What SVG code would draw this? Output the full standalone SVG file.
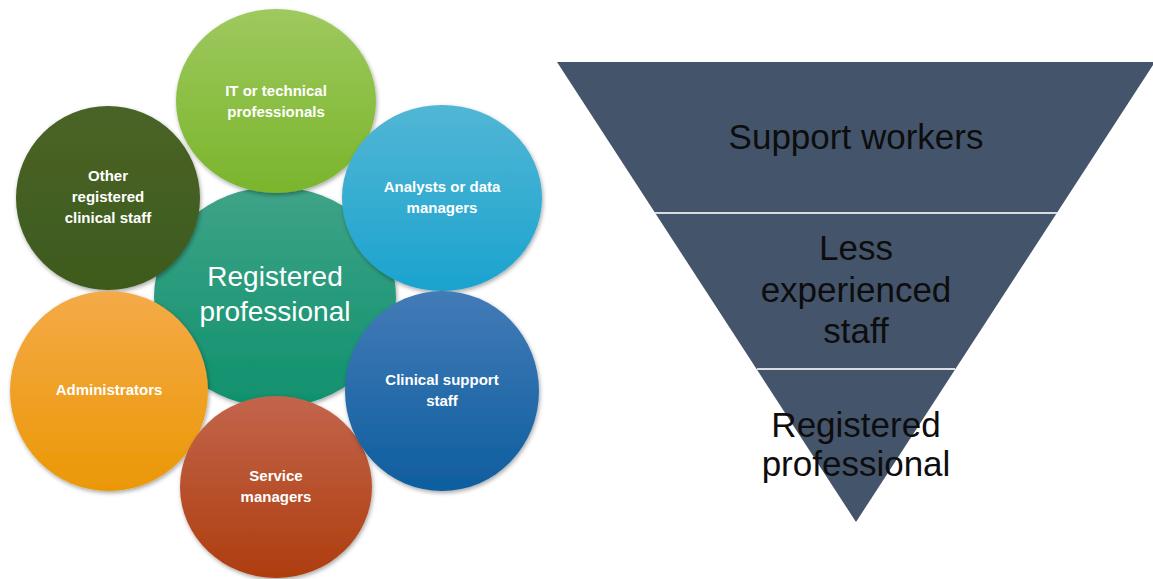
<svg xmlns="http://www.w3.org/2000/svg" width="1153" height="579" viewBox="0 0 1153 579">
  <defs>
    <style>
      .lbl { font-family: "Liberation Sans", Arial, sans-serif; font-weight: bold; font-size: 15px; fill: #ffffff; text-anchor: middle; }
      .core { font-family: "Liberation Sans", Arial, sans-serif; font-size: 28px; fill: #ffffff; text-anchor: middle; }
      .tier { font-family: "Liberation Sans", Arial, sans-serif; font-size: 35px; fill: #0d0d0d; text-anchor: middle; }
      .divider { stroke: #d9dde3; stroke-width: 2; }
    </style>
    <filter id="shadow" x="-10%" y="-10%" width="125%" height="125%">
      <feDropShadow dx="1" dy="2" stdDeviation="2" flood-color="#000" flood-opacity="0.35"/>
    </filter>
    <linearGradient id="gCore" x1="0" y1="0" x2="0" y2="1">
      <stop offset="0" stop-color="#3fa388"/>
      <stop offset="1" stop-color="#0f916d"/>
    </linearGradient>
    <linearGradient id="gIT" x1="0" y1="0" x2="0" y2="1">
      <stop offset="0" stop-color="#9ec95e"/>
      <stop offset="1" stop-color="#7ab52c"/>
    </linearGradient>
    <linearGradient id="gAnalyst" x1="0" y1="0" x2="0" y2="1">
      <stop offset="0" stop-color="#52b6d5"/>
      <stop offset="1" stop-color="#1ba3cf"/>
    </linearGradient>
    <linearGradient id="gClinical" x1="0" y1="0" x2="0" y2="1">
      <stop offset="0" stop-color="#437bb7"/>
      <stop offset="1" stop-color="#0e5e9f"/>
    </linearGradient>
    <linearGradient id="gService" x1="0" y1="0" x2="0" y2="1">
      <stop offset="0" stop-color="#c2654c"/>
      <stop offset="1" stop-color="#ae3d0e"/>
    </linearGradient>
    <linearGradient id="gAdmin" x1="0" y1="0" x2="0" y2="1">
      <stop offset="0" stop-color="#f4aa48"/>
      <stop offset="1" stop-color="#eb9805"/>
    </linearGradient>
    <linearGradient id="gOther" x1="0" y1="0" x2="0" y2="1">
      <stop offset="0" stop-color="#4a6426"/>
      <stop offset="1" stop-color="#3e5a1e"/>
    </linearGradient>
  </defs>

  <rect width="1153" height="579" fill="#ffffff"/>

  <!-- Cluster of staff groups around the registered professional -->
  <g id="core">
    <ellipse cx="275" cy="297" rx="121" ry="110" fill="url(#gCore)" filter="url(#shadow)"/>
    <text class="core" x="275" y="286">Registered</text>
    <text class="core" x="275" y="321">professional</text>
  </g>

  <g id="other-clinical">
    <ellipse cx="108" cy="198" rx="92" ry="92" fill="url(#gOther)" filter="url(#shadow)"/>
    <text class="lbl" x="108" y="181">Other</text>
    <text class="lbl" x="108" y="202">registered</text>
    <text class="lbl" x="108" y="223">clinical staff</text>
  </g>

  <g id="it-technical">
    <ellipse cx="276" cy="101" rx="100" ry="92" fill="url(#gIT)" filter="url(#shadow)"/>
    <text class="lbl" x="276" y="96">IT or technical</text>
    <text class="lbl" x="276" y="117">professionals</text>
  </g>

  <g id="analysts">
    <ellipse cx="442" cy="198" rx="100" ry="93" fill="url(#gAnalyst)" filter="url(#shadow)"/>
    <text class="lbl" x="442" y="192">Analysts or data</text>
    <text class="lbl" x="442" y="213">managers</text>
  </g>

  <g id="administrators">
    <ellipse cx="109" cy="391" rx="99" ry="100" fill="url(#gAdmin)" filter="url(#shadow)"/>
    <text class="lbl" x="109" y="395">Administrators</text>
  </g>

  <g id="service-managers">
    <ellipse cx="276" cy="487" rx="96" ry="91" fill="url(#gService)" filter="url(#shadow)"/>
    <text class="lbl" x="276" y="481">Service</text>
    <text class="lbl" x="276" y="502">managers</text>
  </g>

  <g id="clinical-support">
    <ellipse cx="442" cy="391" rx="97" ry="100" fill="url(#gClinical)" filter="url(#shadow)"/>
    <text class="lbl" x="442" y="385">Clinical support</text>
    <text class="lbl" x="442" y="406">staff</text>
  </g>

  <!-- Inverted staffing pyramid -->
  <g id="pyramid">
    <polygon points="557,62 1155,62 856,522" fill="#44546a"/>
    <line class="divider" x1="655" y1="213" x2="1057" y2="213"/>
    <line class="divider" x1="757" y1="369" x2="955" y2="369"/>
  </g>
  <g id="tier-support">
    <text class="tier" x="856" y="149">Support workers</text>
  </g>
  <g id="tier-less-experienced">
    <text class="tier" x="856" y="260">Less</text>
    <text class="tier" x="856" y="302">experienced</text>
    <text class="tier" x="856" y="343">staff</text>
  </g>
  <g id="tier-registered">
    <text class="tier" x="856" y="437">Registered</text>
    <text class="tier" x="856" y="476">professional</text>
  </g>
</svg>
